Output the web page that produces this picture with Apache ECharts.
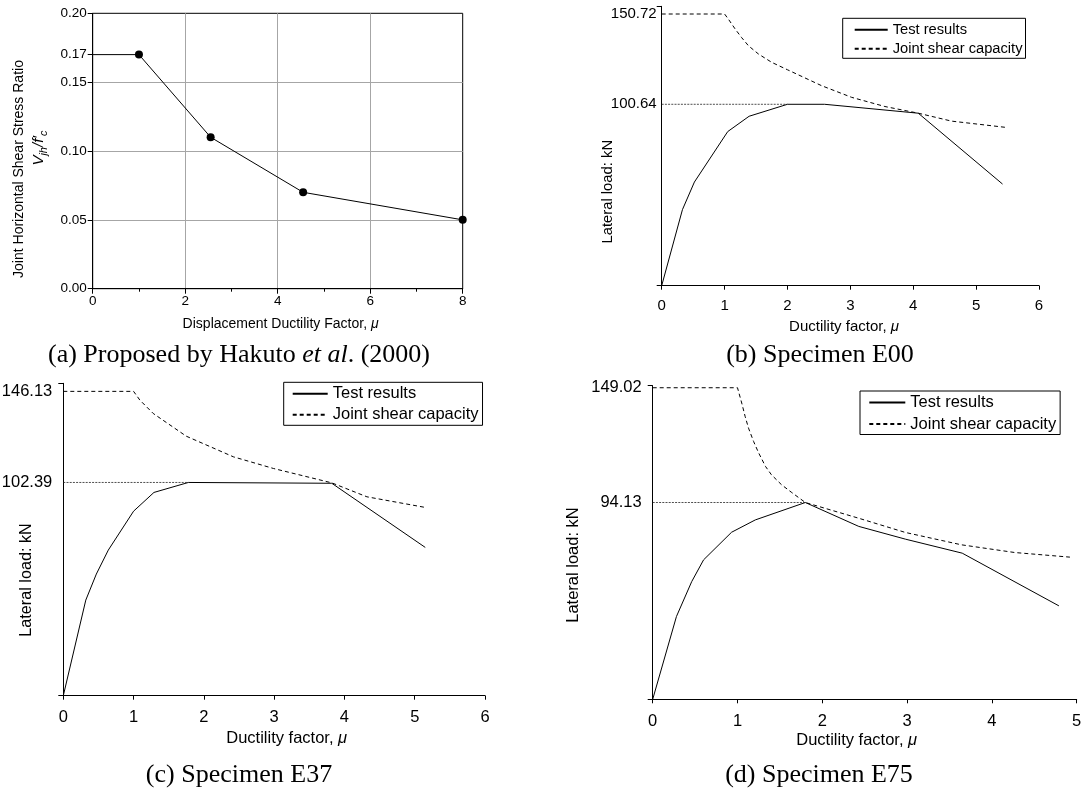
<!DOCTYPE html>
<html>
<head>
<meta charset="utf-8">
<script src="https://cdn.jsdelivr.net/npm/echarts@6/dist/echarts.min.js"></script>
<style>
  html, body { margin: 0; padding: 0; background: #fff; }
  #chart { width: 1085px; height: 791px; }
</style>
</head>
<body>
<div id="chart"></div>
<script>
// (a) Hakuto et al. (2000): joint horizontal shear stress ratio vs displacement ductility
const muHakuto = [0, 1, 2.55, 4.55, 8];
const ratioHakuto = [0.17, 0.17, 0.11, 0.07, 0.05];
const ratioTicks = [0, 0.05, 0.10, 0.15, 0.17, 0.20];

// (b) Specimen E00
const muTestE00 = [0, 0.33, 0.52, 1.05, 1.39, 2.0, 2.59, 4.08, 5.42];
const loadTestE00 = [0, 42.2, 57.5, 85.5, 94.0, 100.64, 100.64, 95.7, 56.4];
const muCapE00 = [0, 1.0, 1.06, 1.17, 1.27, 1.38, 1.54, 1.75, 2.0, 2.54, 3.02, 3.55, 4.08, 4.61, 5.48];
const loadCapE00 = [150.72, 150.72, 147.9, 142.3, 137.7, 133.1, 128.5, 123.9, 119.8, 111.0, 104.5, 99.4, 95.7, 91.3, 87.8];
const peakE00 = [0, 2.0];

// (c) Specimen E37
const muTestE37 = [0, 0.32, 0.47, 0.64, 1.0, 1.29, 1.78, 3.82, 5.15];
const loadTestE37 = [0, 45.9, 58.4, 69.9, 88.6, 97.6, 102.39, 102.0, 71.2];
const muCapE37 = [0, 1.0, 1.09, 1.28, 1.75, 2.42, 2.99, 3.82, 4.32, 5.15];
const loadCapE37 = [146.13, 146.13, 141.9, 135.5, 124.6, 114.7, 109.1, 102.2, 95.5, 90.4];
const peakE37 = [0, 1.78];

// (d) Specimen E75
const muTestE75 = [0, 0.28, 0.46, 0.6, 0.93, 1.21, 1.8, 2.43, 2.98, 3.65, 4.79];
const loadTestE75 = [0, 39.6, 56.3, 66.7, 79.9, 85.8, 94.13, 82.7, 76.6, 69.9, 44.7];
const muCapE75 = [0, 1.0, 1.05, 1.09, 1.13, 1.19, 1.25, 1.33, 1.40, 1.52, 1.64, 1.8, 2.43, 2.98, 3.64, 4.27, 4.92];
const loadCapE75 = [149.02, 149.02, 141.7, 135.3, 129.7, 123.3, 117.8, 111.4, 107.4, 102.6, 98.9, 94.13, 86.6, 79.8, 73.9, 70.2, 68.0];
const peakE75 = [0, 1.8];

const legendNames = ['Test results', 'Joint shear capacity'];

const SANS = 'Liberation Sans, Arial, Helvetica, sans-serif';
const SERIF = 'Liberation Serif, Times New Roman, serif';
const BLACK = '#000';

const pairs = (xs, ys) => xs.map((x, i) => [x, ys[i]]);

// layout of the three load–ductility panels
const panels = [
  { mu: muTestE00, load: loadTestE00, muCap: muCapE00, loadCap: loadCapE00, peakMu: peakE00,
    grid: { left: 661.7, top: 6.3, width: 377.3, height: 279.4 }, xMax: 6, yMax: 155,
    tickFont: 15, yMargin: 5, xMargin: 13,
    legend: { left: 842.7, top: 18.3, itemWidth: 33, itemHeight: 14, itemGap: 4, padding: [4, 3, 2, 11], fontSize: 14.7 } },
  { mu: muTestE37, load: loadTestE37, muCap: muCapE37, loadCap: loadCapE37, peakMu: peakE37,
    grid: { left: 63.3, top: 383.3, width: 421.7, height: 312.4 }, xMax: 6, yMax: 150,
    tickFont: 16.5, yMargin: 11, xMargin: 13,
    legend: { left: 283.7, top: 382.3, itemWidth: 35, itemHeight: 16, itemGap: 4, padding: [3, 4, 2, 8], fontSize: 16.5 } },
  { mu: muTestE75, load: loadTestE75, muCap: muCapE75, loadCap: loadCapE75, peakMu: peakE75,
    grid: { left: 652.7, top: 385.7, width: 424, height: 313.6 }, xMax: 5, yMax: 150,
    tickFont: 16.5, yMargin: 11, xMargin: 14,
    legend: { left: 860, top: 391, itemWidth: 36, itemHeight: 16, itemGap: 4.5, padding: [3, 4, 2, 8.3], fontSize: 16.5 } }
];

const grids = [
  { left: 92.7, top: 13.3, width: 370, height: 275.4, show: true, borderColor: BLACK, borderWidth: 1,
    backgroundColor: 'transparent', containLabel: false, outerBoundsMode: 'none' }
];
const xAxes = [
  { type: 'value', gridIndex: 0, min: 0, max: 8, interval: 2,
    axisLine: { show: true, lineStyle: { color: BLACK, width: 1 } },
    axisTick: { show: true, inside: false, length: 5, lineStyle: { color: BLACK } },
    minorTick: { show: true, splitNumber: 2, length: 3, lineStyle: { color: BLACK } },
    splitLine: { show: true, showMinLine: false, showMaxLine: false, lineStyle: { color: '#a6a6a6', width: 1 } },
    axisLabel: { color: BLACK, fontFamily: SANS, fontSize: 13.5, margin: 6 } }
];
const yAxes = [
  { type: 'value', gridIndex: 0, position: 'left', min: 0, max: 0.2, interval: 0.05,
    axisLine: { show: true, lineStyle: { color: BLACK, width: 1 } },
    axisTick: { show: true, inside: false, length: 5, lineStyle: { color: BLACK } },
    splitLine: { show: true, showMinLine: false, showMaxLine: false, lineStyle: { color: '#a6a6a6', width: 1 } },
    axisLabel: { color: BLACK, fontFamily: SANS, fontSize: 13.5, margin: 6,
                 formatter: v => v.toFixed(2) } },
  // extra label for the 0.17 plateau
  { type: 'value', gridIndex: 0, position: 'left', min: 0, max: 0.2,
    axisLine: { show: false }, splitLine: { show: false },
    axisTick: { show: true, inside: false, length: 5, lineStyle: { color: BLACK },
                customValues: [ratioTicks[4]] },
    axisLabel: { color: BLACK, fontFamily: SANS, fontSize: 13.5, margin: 6,
                 customValues: [ratioTicks[4]], formatter: v => v.toFixed(2) } }
];
const series = [
  { type: 'line', name: 'Hakuto et al. (2000)', xAxisIndex: 0, yAxisIndex: 0,
    data: pairs(muHakuto, ratioHakuto), symbol: 'circle',
    symbolSize: (v, p) => (p.dataIndex === 0 ? 0 : 8),
    itemStyle: { color: BLACK }, lineStyle: { color: BLACK, width: 1 }, clip: true, silent: true }
];
const legends = [];

panels.forEach((p, k) => {
  const gi = k + 1;
  const xi = xAxes.length;
  const yi = yAxes.length;
  const plateau = p.loadCap[0];
  const peak = Math.max(...p.load);
  grids.push(Object.assign({ show: false, containLabel: false, outerBoundsMode: 'none' }, p.grid));
  xAxes.push({
    type: 'value', gridIndex: gi, min: 0, max: p.xMax, interval: 1,
    axisLine: { show: true, onZero: false, lineStyle: { color: BLACK, width: 1 } },
    axisTick: { show: true, inside: false, length: 4, lineStyle: { color: BLACK } },
    splitLine: { show: false },
    axisLabel: { color: BLACK, fontFamily: SANS, fontSize: p.tickFont, margin: p.xMargin }
  });
  yAxes.push({
    type: 'value', gridIndex: gi, position: 'left', min: 0, max: p.yMax,
    axisLine: { show: true, onZero: false, lineStyle: { color: BLACK, width: 1 } },
    axisTick: { show: true, inside: false, length: 5, lineStyle: { color: BLACK },
                customValues: [0, p.yMax] },
    splitLine: { show: false },
    axisLabel: { color: BLACK, fontFamily: SANS, fontSize: p.tickFont, margin: p.yMargin,
                 customValues: [peak, plateau], formatter: v => v.toFixed(2) }
  });
  series.push(
    { type: 'line', name: legendNames[0], xAxisIndex: xi, yAxisIndex: yi,
      data: pairs(p.mu, p.load), symbol: 'none', silent: true,
      lineStyle: { color: BLACK, width: 1 }, itemStyle: { color: BLACK } },
    { type: 'line', name: legendNames[1], xAxisIndex: xi, yAxisIndex: yi,
      data: pairs(p.muCap, p.loadCap), symbol: 'none', silent: true,
      lineStyle: { color: BLACK, width: 1, type: [4, 3] }, itemStyle: { color: BLACK } },
    // dotted guide from the load axis to the peak load
    { type: 'line', name: 'peak', xAxisIndex: xi, yAxisIndex: yi,
      data: p.peakMu.map(m => [m, peak]), symbol: 'none', silent: true,
      lineStyle: { color: '#222', width: 0.8, type: [2, 1.2] } }
  );
  const L = p.legend;
  legends.push({
    data: legendNames, orient: 'vertical', left: L.left, top: L.top,
    itemWidth: L.itemWidth, itemHeight: L.itemHeight, itemGap: L.itemGap, padding: L.padding,
    borderColor: BLACK, borderWidth: 1, borderRadius: 0, backgroundColor: '#fff',
    selectedMode: false,
    // line-only keys: no marker on the key
    itemStyle: { color: 'rgba(0,0,0,0)', borderColor: 'rgba(0,0,0,0)', borderWidth: 0, opacity: 0 },
    textStyle: { color: BLACK, fontFamily: SANS, fontSize: L.fontSize }
  });
});

// titles, axis names and captions
const txt = (x, y, text, size, extra) => ({
  type: 'text', x, y, silent: true,
  style: Object.assign({ text, fontFamily: SANS, fontSize: size, fill: BLACK,
                         align: 'center', verticalAlign: 'middle' }, extra || {})
});
const vertical = (x, y, text, size, extra) => {
  const t = txt(x, y, text, size, extra);
  t.rotation = Math.PI / 2;
  return t;
};
const italicMu = size => ({
  n: { fontFamily: SANS, fontSize: size, fill: BLACK },
  i: { fontFamily: SANS, fontSize: size, fontStyle: 'italic', fill: BLACK }
});
const capRich = {
  n: { fontFamily: SERIF, fontSize: 26, fill: BLACK },
  i: { fontFamily: SERIF, fontSize: 26, fontStyle: 'italic', fill: BLACK }
};

const graphics = [
  // panel (a)
  vertical(19, 169, 'Joint Horizontal Shear Stress Ratio', 14),
  vertical(38.5, 148, '{v|V}{s|jh}{v|/f′}{s|c}', 15, {
    rich: {
      v: { fontFamily: SANS, fontSize: 15, fontStyle: 'italic', lineHeight: 22, fill: BLACK },
      s: { fontFamily: SANS, fontSize: 11, fontStyle: 'italic', lineHeight: 11, verticalAlign: 'bottom', fill: BLACK }
    }
  }),
  txt(280.6, 324, '{n|Displacement Ductility Factor, }{i|μ}', 14, { rich: italicMu(14) }),
  // panel (b)
  vertical(608.3, 191.7, 'Lateral load: kN', 14.8),
  txt(844, 326.7, '{n|Ductility factor, }{i|μ}', 15, { rich: italicMu(15) }),
  // panel (c)
  vertical(26.7, 580, 'Lateral load: kN', 16.2),
  txt(286.7, 738.3, '{n|Ductility factor, }{i|μ}', 16.5, { rich: italicMu(16.5) }),
  // panel (d)
  vertical(573, 565, 'Lateral load: kN', 16.5),
  txt(856.7, 740, '{n|Ductility factor, }{i|μ}', 16.5, { rich: italicMu(16.5) }),
  // captions
  txt(239, 355, '{n|(a) Proposed by Hakuto }{i|et al}{n|. (2000)}', 26, { rich: capRich, fontFamily: SERIF }),
  txt(820, 355, '(b) Specimen E00', 26, { fontFamily: SERIF }),
  txt(239, 775, '(c) Specimen E37', 26, { fontFamily: SERIF }),
  txt(819, 775, '(d) Specimen E75', 26, { fontFamily: SERIF })
];

const chart = echarts.init(document.getElementById('chart'), null, { renderer: 'canvas' });
chart.setOption({
  animation: false,
  backgroundColor: '#fff',
  grid: grids,
  xAxis: xAxes,
  yAxis: yAxes,
  legend: legends,
  series: series,
  graphic: graphics
});
</script>
</body>
</html>
